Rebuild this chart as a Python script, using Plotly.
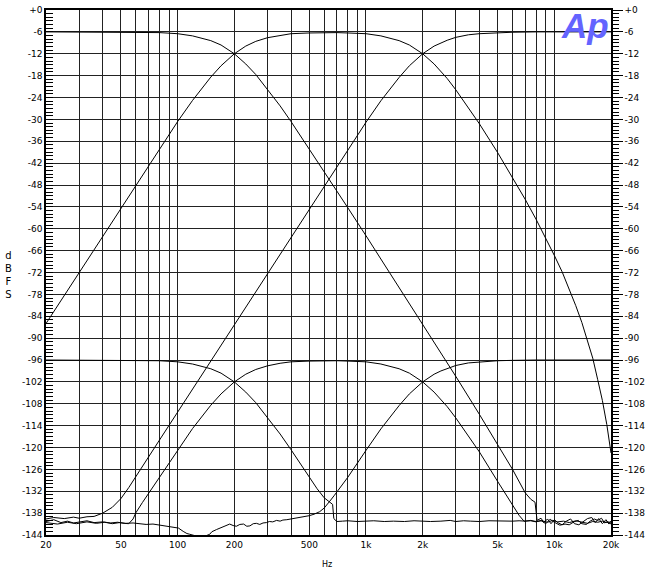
import math
import plotly.graph_objects as go

# ---------------- data ----------------
# Top set (passband -6 dBFS)
F_T_LOW = [20, 50, 80, 100, 120, 150, 170, 200, 230, 260, 300, 350, 400, 500, 600, 700, 800, 1000, 1200, 1500,
           2000, 2500, 3000, 4000, 5000, 6000, 7000, 7500, 7900, 8050, 8100, 8500, 8800, 9200, 9600, 10000, 10500,
           11000, 11600, 12200, 12800, 13500, 14200, 15000, 15800, 16500, 17200, 18000, 18800, 19500, 20000]
DB_T_LOW = [-6.0, -6.0, -6.2, -6.5, -7.1, -8.4, -9.6, -12.0, -14.8, -17.7, -21.7, -26.3, -30.6, -38.1, -44.3, -49.6,
            -54.2, -61.9, -68.3, -76.0, -86.2, -94.1, -100.5, -110.9, -119.1, -126.0, -132.4, -134.2, -135.0, -139.8,
            -140.0, -139.4, -140.6, -139.6, -140.9, -139.8, -140.7, -141.2, -140.2, -139.6, -140.9, -141.2, -140.3,
            -139.5, -139.2, -140.6, -139.5, -140.9, -139.8, -141.0, -140.2]

F_T_MID = [20, 25, 30, 40, 50, 60, 70, 80, 100, 120, 150, 170, 200, 230, 260, 300, 350, 400, 500, 600, 700, 800,
           1000, 1200, 1500, 1700, 2000, 2300, 2500, 2700, 3000, 3500, 4000, 5000, 6000, 7000, 8000, 9000, 10000,
           11000, 12000, 13000, 14000, 15000, 16000, 17000, 18000, 19000, 20000]
DB_T_MID = [-86.0, -78.3, -71.9, -61.9, -54.2, -47.9, -42.6, -38.1, -30.6, -24.8, -18.4, -15.3, -12.0, -9.9, -8.6,
            -7.6, -6.9, -6.5, -6.3, -6.2, -6.2, -6.3, -6.5, -7.1, -8.4, -9.6, -12.0, -14.8, -16.8, -18.8, -21.9,
            -26.7, -31.2, -39.1, -45.9, -51.9, -57.4, -62.5, -67.3, -71.8, -76.5, -81.1, -85.7, -90.5, -95.5,
            -101.4, -107.1, -113.7, -121.5]

F_T_HIGH = [20, 22, 25, 28, 30, 33, 36, 40, 45, 50, 55, 60, 70, 80, 100, 120, 150, 200, 250, 300, 400, 500, 600,
            700, 800, 1000, 1200, 1500, 1700, 2000, 2300, 2500, 2700, 3000, 3500, 4000, 5000, 6000, 8000, 20000]
DB_T_HIGH = [-139.6, -139.2, -139.5, -139.1, -139.4, -139.0, -138.9, -138.0, -136.4, -134.0, -131.0, -127.9,
             -122.7, -118.0, -110.3, -104.0, -96.2, -86.2, -78.4, -72.1, -62.1, -54.4, -48.1, -42.8, -38.2, -30.8,
             -24.9, -18.5, -15.3, -12.0, -9.9, -9.0, -8.3, -7.5, -6.8, -6.5, -6.2, -6.1, -6.0, -6.0]

# Bottom set (passband -96 dBFS)
F_B_LOW = [20, 50, 80, 100, 120, 150, 170, 200, 230, 260, 300, 350, 400, 450, 500, 550, 600, 640, 665, 675, 700,
           750, 800, 900, 1000, 1100, 1250, 1400, 1600, 1800, 2000, 2200, 2500, 2800, 3000, 3300, 3600, 4000, 4500,
           5000, 5500, 6000, 6500, 7000, 7500, 8000, 8600, 9200, 9800, 10400, 11200, 12000, 13000, 14000, 15000,
           16000, 17000, 18000, 19000, 20000]
DB_B_LOW = [-96.0, -96.0, -96.2, -96.5, -97.1, -98.4, -99.6, -102.0, -104.8, -107.7, -111.7, -116.3, -120.6,
            -124.5, -128.1, -131.3, -133.8, -135.0, -135.6, -139.5, -140.3, -140.2, -140.1, -140.3, -140.2, -140.1,
            -140.3, -140.2, -140.3, -140.1, -140.2, -140.3, -140.2, -140.0, -140.3, -140.1, -140.2, -140.3, -140.1,
            -140.2, -140.3, -140.2, -140.1, -140.2, -140.0, -140.3, -140.1, -140.5, -140.0, -140.4, -140.2, -140.6,
            -140.1, -140.4, -140.8, -140.3, -140.5, -140.2, -140.6, -140.4]

F_B_MID = [20, 22, 24, 26, 28, 30, 33, 36, 40, 44, 48, 52, 55, 58, 60, 65, 70, 80, 100, 120, 150, 170, 200, 230,
           260, 300, 350, 400, 500, 600, 700, 800, 1000, 1200, 1500, 1700, 2000, 2300, 2500, 2700, 3000, 3500, 4000,
           5000, 5500, 6000, 6500, 6900, 7500, 8000, 8500, 9000, 9500, 10000, 10700, 11400, 12000, 12700, 13400,
           14000, 14800, 15500, 16300, 17000, 17800, 18500, 19200, 20000]
DB_B_MID = [-140.3, -139.8, -140.6, -140.2, -140.7, -140.4, -140.1, -140.6, -140.4, -140.7, -140.5, -140.8, -140.9,
            -139.6, -137.9, -135.1, -132.6, -128.1, -120.6, -114.8, -108.4, -105.3, -102.0, -99.9, -98.6, -97.6,
            -96.9, -96.5, -96.3, -96.2, -96.2, -96.3, -96.5, -97.1, -98.4, -99.6, -102.0, -104.8, -106.8, -108.8,
            -111.9, -116.7, -121.2, -129.3, -132.8, -135.6, -138.6, -140.2, -140.1, -140.4, -140.0, -140.9, -139.7,
            -140.5, -141.3, -141.0, -141.2, -140.4, -140.0, -140.9, -141.1, -140.2, -139.6, -140.0, -139.4, -140.7,
            -140.3, -141.0]

F_B_HIGH = [20, 23, 26, 29, 33, 37, 41, 45, 49, 53, 58, 63, 68, 74, 80, 86, 91, 96, 101, 107, 112, 116, 122, 128,
            134, 140, 148, 152, 161, 170, 180, 189, 197, 205, 214, 224, 233, 242, 252, 262, 273, 284, 296, 307, 320,
            335, 350, 362, 380, 400, 425, 450, 475, 500, 530, 568, 600, 625, 650, 680, 726, 800, 1000, 1200, 1500,
            1700, 2000, 2300, 2500, 2700, 3000, 3500, 4000, 5000, 6000, 8000, 20000]
DB_B_HIGH = [-140.6, -141.0, -140.5, -140.9, -140.4, -140.8, -140.5, -140.9, -140.6, -140.8, -140.7, -140.9, -141.1,
             -141.0, -141.3, -141.6, -141.7, -141.9, -142.1, -143.0, -143.6, -143.8, -144.1, -144.4, -144.2, -144.3,
             -143.8, -143.1, -142.5, -142.0, -141.5, -141.0, -141.4, -141.6, -141.1, -141.0, -141.6, -141.5, -140.9,
             -140.8, -141.1, -140.7, -140.6, -140.3, -140.4, -140.0, -140.2, -139.9, -139.8, -139.6, -139.5, -139.2,
             -139.0, -138.7, -138.3, -137.6, -136.6, -135.6, -134.4, -133.1, -131.2, -128.2, -120.8, -114.9, -108.5,
             -105.3, -102.0, -99.9, -99.0, -98.3, -97.5, -96.8, -96.5, -96.2, -96.1, -96.0, -96.0]

# Axis ticks / labels
X_GRID = [20, 30, 40, 50, 60, 70, 80, 90, 100, 200, 300, 400, 500, 600, 700, 800, 900, 1000,
          2000, 3000, 4000, 5000, 6000, 7000, 8000, 9000, 10000, 20000]
X_LABELS = {20: "20", 50: "50", 100: "100", 200: "200", 500: "500", 1000: "1k", 2000: "2k",
            5000: "5k", 10000: "10k", 20000: "20k"}
Y_TICKS = list(range(-144, 1, 6))
Y_LABELS = ["+0" if v == 0 else str(v) for v in Y_TICKS]
X_TITLE = "Hz"
Y_TITLE = "d<br>B<br>F<br>S"
LOGO = "Ap"

# ---------------- figure ----------------
FONT = "DejaVu Sans"
fig = go.Figure()
curves = [(F_T_LOW, DB_T_LOW, "y"), (F_T_MID, DB_T_MID, "y"), (F_T_HIGH, DB_T_HIGH, "y2"),
          (F_B_LOW, DB_B_LOW, "y"), (F_B_MID, DB_B_MID, "y"), (F_B_HIGH, DB_B_HIGH, "y")]
for fx, dy, ax in curves:
    fig.add_trace(go.Scatter(x=fx, y=dy, yaxis=ax, mode="lines",
                             line=dict(color="black", width=1),
                             hoverinfo="skip", showlegend=False))

x_ticktext = [X_LABELS.get(v, "") for v in X_GRID]

fig.update_layout(
    width=649, height=574,
    margin=dict(l=46, r=38, t=10, b=39, pad=0, autoexpand=False),
    paper_bgcolor="white", plot_bgcolor="white",
    font=dict(family=FONT, size=9, color="black"),
    showlegend=False,
    xaxis=dict(type="log", range=[math.log10(20), math.log10(20000)],
               tickmode="array", tickvals=X_GRID, ticktext=x_ticktext,
               showgrid=True, gridcolor="#222", gridwidth=1,
               ticks="", showline=True, linecolor="black", linewidth=2, mirror=True,
               zeroline=False, tickfont=dict(size=9), automargin=False),
    yaxis=dict(range=[-144, 0], tickmode="array", tickvals=Y_TICKS, ticktext=Y_LABELS,
               showgrid=True, gridcolor="#222", gridwidth=1,
               ticks="inside", ticklen=7, tickcolor="black", tickwidth=1,
               minor=dict(tickmode="linear", tick0=0, dtick=1, ticks="inside", ticklen=7,
                          tickcolor="black", tickwidth=1, showgrid=False),
               showline=True, linecolor="black", linewidth=1.5, mirror=False,
               zeroline=False, tickfont=dict(size=9), automargin=False),
    yaxis2=dict(range=[-144, 0], overlaying="y", side="right",
                tickmode="array", tickvals=Y_TICKS, ticktext=Y_LABELS,
                showgrid=False, ticks="outside", ticklen=10, tickcolor="black", tickwidth=1,
                minor=dict(tickmode="linear", tick0=0, dtick=1, ticks="outside", ticklen=6,
                           tickcolor="black", tickwidth=1, showgrid=False),
                showline=True, linecolor="black", linewidth=1.5,
                zeroline=False, tickfont=dict(size=9), automargin=False),
    annotations=[
        dict(text=X_TITLE, xref="paper", yref="paper", x=0.497, y=-0.057,
             xanchor="center", yanchor="middle", showarrow=False,
             font=dict(family=FONT, size=8, color="black")),
        dict(text=Y_TITLE, xref="paper", yref="paper", x=-0.067, y=0.495,
             xanchor="center", yanchor="middle", showarrow=False,
             font=dict(family=FONT, size=10, color="black")),
        dict(text="<b><i>" + LOGO + "</i></b>", xref="paper", yref="paper", x=0.954, y=0.97,
             xanchor="center", yanchor="middle", showarrow=False,
             font=dict(family="Liberation Sans", size=35, color="rgb(100,100,255)")),
    ],
)

fig.write_html("out.html", config={"displayModeBar": False},
               post_script="document.body.style.margin='0px';document.body.style.padding='0px';"
                           "document.body.style.overflow='hidden';")
